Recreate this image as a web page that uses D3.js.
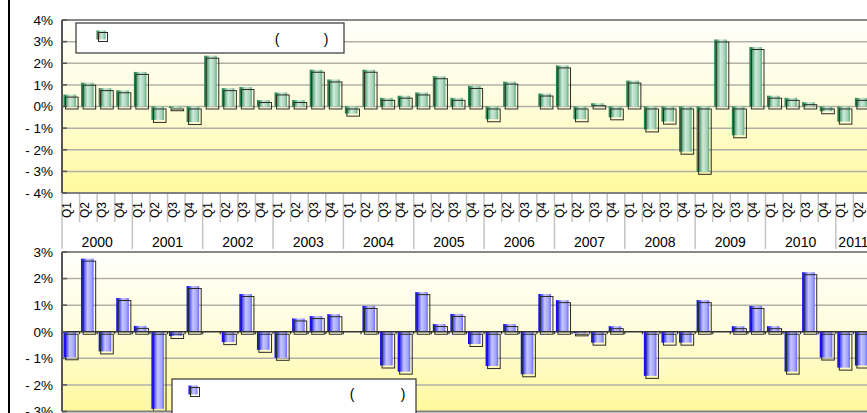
<!DOCTYPE html>
<html><head><meta charset="utf-8">
<script src="https://cdn.jsdelivr.net/npm/d3@7"></script>
<style>html,body{margin:0;padding:0;background:#fff;overflow:hidden}svg{display:block}</style>
</head><body>
<script>
// ---- data ----
const quarterLabels = ["Q1","Q2","Q3","Q4"];
const years = ["2000","2001","2002","2003","2004","2005","2006","2007","2008","2009","2010","2011"];
const nQuarters = 46; // 2000 Q1 .. 2011 Q2
const topValues = [0.55,1.1,0.85,0.75, 1.6,-0.62,-0.08,-0.72, 2.35,0.85,0.9,0.3, 0.65,0.3,1.7,1.25,
  -0.33,1.7,0.4,0.5, 0.65,1.4,0.4,0.95, -0.59,1.15,0,0.6, 1.9,-0.59,0.15,-0.5,
  1.2,-1.06,-0.7,-2.09, -3.02,3.1,-1.33,2.75, 0.5,0.4,0.2,-0.22, -0.7,0.4];
const bottomValues = [-0.96,2.75,-0.74,1.27, 0.22,-2.9,-0.16,1.72, 0,-0.39,1.42,-0.68, -0.98,0.5,0.59,0.66,
  0,0.97,-1.27,-1.5, 1.49,0.29,0.67,-0.46, -1.29,0.29,-1.6,1.42, 1.19,-0.06,-0.41,0.21,
  0,-1.66,-0.41,-0.41, 1.19,0,0.21,0.97, 0.21,-1.5,2.24,-0.97, -1.35,-1.27];
const topTicks = [4,3,2,1,0,-1,-2,-3,-4];
const bottomTicks = [3,2,1,0,-1,-2,-3];
const fmt = v => v < 0 ? "- " + Math.abs(v) + "%" : v + "%";

const W = 867, H = 413;
const font = "'Liberation Sans', Arial, sans-serif";
const svg = d3.select("body").append("svg").attr("width", W).attr("height", H);
const defs = svg.append("defs");

function hGrad(id, stops){
  const g = defs.append("linearGradient").attr("id", id).attr("x1",0).attr("x2",1).attr("y1",0).attr("y2",0);
  stops.forEach(s => g.append("stop").attr("offset", s[0]).attr("stop-color", s[1]));
}
hGrad("gGreen", [[0,"#1c7a44"],[0.18,"#3f9a66"],[0.5,"#cfeadb"],[0.8,"#a9d5bb"],[1,"#62aa80"]]);
hGrad("gBlue", [[0,"#0000ee"],[0.18,"#3636ff"],[0.5,"#c6c6ff"],[0.8,"#a6a6ff"],[1,"#6a6aff"]]);
const bg = defs.append("linearGradient").attr("id","gBg").attr("x1",0).attr("x2",0).attr("y1",0).attr("y2",1);
[[0,"#fffffb"],[0.45,"#fffde0"],[1,"#fff99c"]].forEach(s => bg.append("stop").attr("offset", s[0]).attr("stop-color", s[1]));

const x = d3.scaleBand().domain(d3.range(nQuarters)).range([62, 871]);
const bw = x.bandwidth();

function panel(cfg){
  const {y, ticks, values, grad, zeroDark, id} = cfg;
  const [y0, y1] = y.range(); // bottom, top
  const g = svg.append("g");
  defs.append("clipPath").attr("id", id).append("rect").attr("x", 62).attr("y", y1).attr("width", 820).attr("height", y0 - y1);
  g.append("rect").attr("x", 62).attr("y", y1).attr("width", 820).attr("height", y0 - y1).attr("fill", "url(#gBg)");
  // gridlines
  g.selectAll(".grid").data(ticks.filter(t => t !== ticks[0] && t !== ticks[ticks.length-1] && !(zeroDark && t === 0)))
    .join("line").attr("x1", 62).attr("x2", W).attr("y1", d => y(d)).attr("y2", d => y(d))
    .attr("stroke", "#b0b0a8").attr("stroke-width", 1.5);
  // bars
  const bars = g.append("g").attr("clip-path", `url(#${id})`);
  const data = values.map((v,i) => ({v,i})).filter(d => d.v !== 0);
  if (zeroDark) {
    g.append("line").attr("x1", 62).attr("x2", W).attr("y1", y(0)).attr("y2", y(0)).attr("stroke", "#333").attr("stroke-width", 1.5);
    g.selectAll(".zt").data(d3.range(1, nQuarters)).join("line")
      .attr("x1", d => x(d)).attr("x2", d => x(d)).attr("y1", y(0)).attr("y2", y(0) + 2.5)
      .attr("stroke", "#333").attr("stroke-width", 1.2);
  }
  bars.selectAll(".bar").data(data).join("rect")
    .attr("x", d => x(d.i) + 1.5).attr("width", bw - 5)
    .attr("y", d => y(Math.max(0, d.v))).attr("height", d => Math.abs(y(d.v) - y(0)))
    .attr("fill", `url(#${grad})`);
  bars.selectAll(".sh").data(data).join("rect")
    .attr("x", d => x(d.i) + 3.5).attr("width", bw - 5)
    .attr("y", d => y(Math.max(0, d.v)) + 2.5).attr("height", d => Math.abs(y(d.v) - y(0)))
    .attr("fill", "none").attr("stroke", "#2b2b22").attr("stroke-width", 1);
  // borders
  g.append("line").attr("x1", 62).attr("x2", W).attr("y1", y1).attr("y2", y1).attr("stroke", "#888").attr("stroke-width", 2);
  g.append("line").attr("x1", 62).attr("x2", W).attr("y1", y0).attr("y2", y0).attr("stroke", "#808080").attr("stroke-width", 2);
  g.append("line").attr("x1", 62).attr("x2", 62).attr("y1", y1).attr("y2", y0).attr("stroke", "#555").attr("stroke-width", 2);
  // y ticks & labels
  g.selectAll(".tk").data(ticks).join("line").attr("x1", 62).attr("x2", 67)
    .attr("y1", d => y(d)).attr("y2", d => y(d)).attr("stroke", "#555").attr("stroke-width", 1.5);
  g.selectAll(".tl").data(ticks).join("text").attr("x", 53).attr("y", d => y(d)).attr("dy", "0.36em")
    .attr("text-anchor", "end").attr("font-family", font).attr("font-size", 13.5).attr("fill", "#000")
    .text(fmt);
  return g;
}

const yTop = d3.scaleLinear().domain([-4, 4]).range([193, 20]);
const yBot = d3.scaleLinear().domain([-3, 3]).range([411.5, 252]);
panel({y: yTop, ticks: topTicks, values: topValues, grad: "gGreen", zeroDark: false, id: "cTop"});
panel({y: yBot, ticks: bottomTicks, values: bottomValues, grad: "gBlue", zeroDark: true, id: "cBot"});

// x axis of top panel
const ax = svg.append("g");
ax.selectAll(".qt").data(d3.range(1, nQuarters).filter(i => i % 4 !== 0)).join("line")
  .attr("x1", d => x(d)).attr("x2", d => x(d)).attr("y1", 194).attr("y2", 222)
  .attr("stroke", "#c4c4c4").attr("stroke-width", 1.5);
ax.selectAll(".yt").data(d3.range(0, nQuarters, 4)).join("line")
  .attr("x1", d => x(d)).attr("x2", d => x(d)).attr("y1", 194).attr("y2", 249)
  .attr("stroke", "#c4c4c4").attr("stroke-width", 1.5);
ax.selectAll(".ql").data(d3.range(nQuarters)).join("text")
  .attr("transform", d => `translate(${x(d) + bw/2 + 0.5},202) rotate(-90)`)
  .attr("text-anchor", "end").attr("font-family", font).attr("font-size", 12).attr("fill", "#000")
  .text(d => quarterLabels[d % 4]);
ax.selectAll(".yl").data(years).join("text")
  .attr("x", (d,k) => { const a = x(4*k), b = x(Math.min(4*k+3, nQuarters-1)) + bw; return (a+b)/2; })
  .attr("y", 247).attr("text-anchor", "middle").attr("font-family", font).attr("font-size", 14).attr("fill", "#000")
  .text(d => d);

// legends
function legend(lx, ly, lw, lh, mx, my, grad, p1, p2, ty){
  const g = svg.append("g");
  g.append("rect").attr("x", lx).attr("y", ly).attr("width", lw).attr("height", lh).attr("fill", "#fff").attr("stroke", "#333").attr("stroke-width", 1.2);
  g.append("rect").attr("x", mx).attr("y", my).attr("width", 9).attr("height", 9).attr("fill", `url(#${grad})`);
  g.append("rect").attr("x", mx + 2).attr("y", my + 2).attr("width", 9).attr("height", 9).attr("fill", "none").attr("stroke", "#2b2b22").attr("stroke-width", 1);
  g.append("text").attr("x", p1).attr("y", ty).attr("text-anchor", "middle").attr("font-family", font).attr("font-size", 14).text("(");
  g.append("text").attr("x", p2).attr("y", ty).attr("text-anchor", "middle").attr("font-family", font).attr("font-size", 14).text(")");
}
legend(76, 23, 268, 30, 96.5, 30.5, "gGreen", 277, 326, 44);
legend(172, 379, 244, 44, 188.5, 385.5, "gBlue", 352, 403, 399);

// left frame
svg.append("line").attr("x1", 9).attr("x2", 9).attr("y1", 0).attr("y2", H).attr("stroke", "#000").attr("stroke-width", 2);
</script>
</body></html>
